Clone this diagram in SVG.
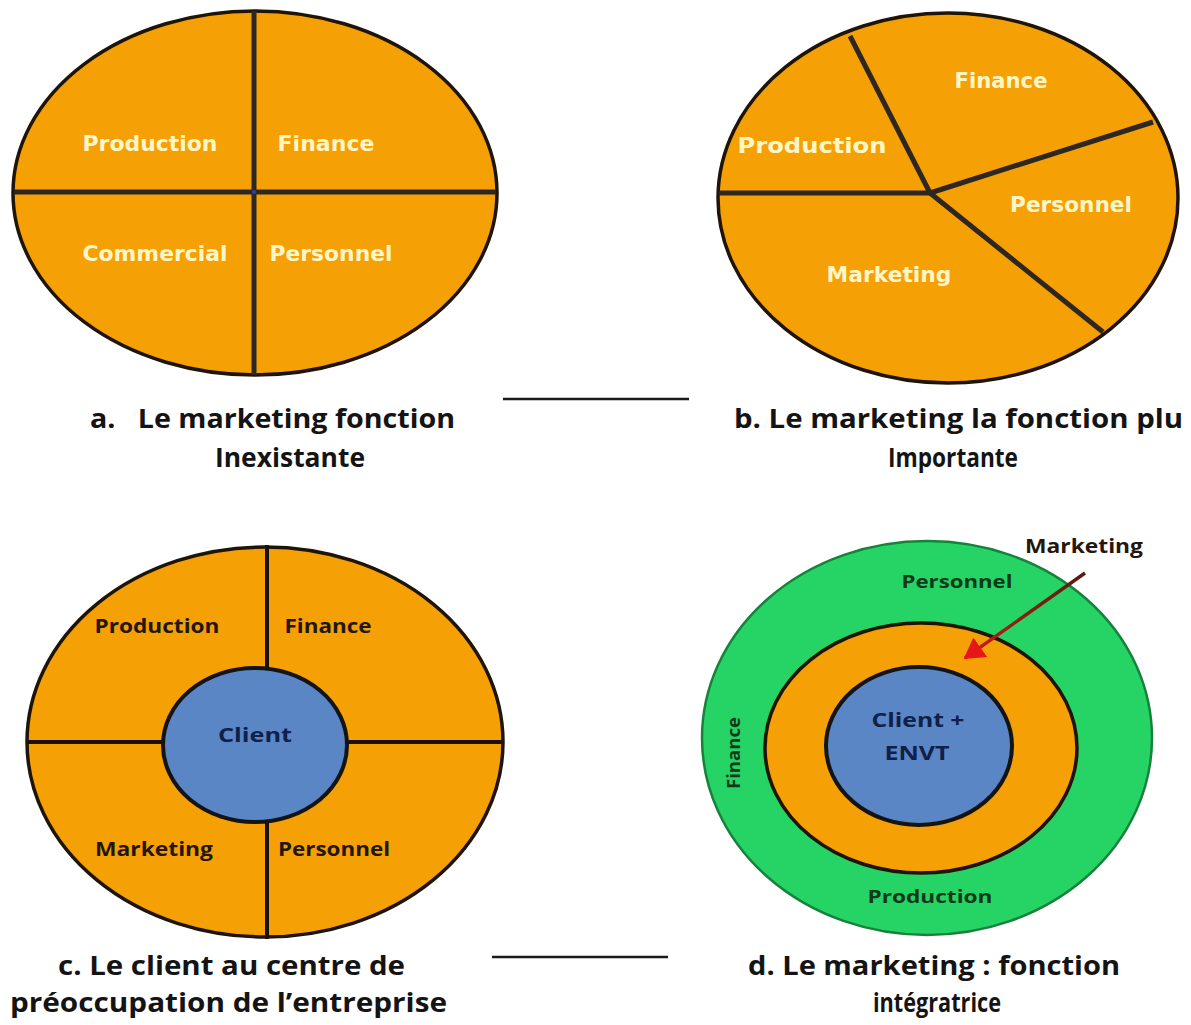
<svg xmlns="http://www.w3.org/2000/svg" width="1191" height="1025" viewBox="0 0 1191 1025">
  <style>
    .bg { fill: #ffffff; }
    .orange { fill: #f5a004; stroke: #1e140a; stroke-width: 3.5; }
    .blue { fill: #5a86c6; stroke: #141414; stroke-width: 4; }
    .green { fill: #26d466; stroke: #17823c; stroke-width: 2.5; }
    .div { stroke: #2e2620; stroke-width: 5; stroke-linecap: butt; fill: none; }
    .divc { stroke: #1a1208; stroke-width: 4; fill: none; }
    .lw { font-family: "DejaVu Sans", Verdana, sans-serif; font-weight: bold; font-size: 21px; fill: #fff6c8; text-anchor: middle; }
    .ld { font-family: "Open Sans", "Liberation Sans", sans-serif; font-weight: bold; font-size: 20px; fill: #24160a; text-anchor: middle; }
    .lc { font-family: "Open Sans", "Liberation Sans", sans-serif; font-weight: bold; font-size: 20px; fill: #102048; text-anchor: middle; }
    .lg { font-family: "Open Sans", "Liberation Sans", sans-serif; font-weight: bold; font-size: 18px; fill: #0f3a1a; text-anchor: middle; }
    .cap { font-family: "Open Sans", "Liberation Sans", sans-serif; font-weight: bold; font-size: 27px; fill: #141414; white-space: pre; }
    .rule { stroke: #1a1a1a; stroke-width: 2.5; }
  </style>
  <defs>
    <linearGradient id="arrowShade" gradientUnits="userSpaceOnUse" x1="1085" y1="573" x2="962" y2="660">
      <stop offset="0" stop-color="#5a1a10"/>
      <stop offset="0.55" stop-color="#8a2010"/>
      <stop offset="1" stop-color="#e8161a"/>
    </linearGradient>
    <marker id="redHead" markerWidth="7" markerHeight="7" refX="5.5" refY="3.5" orient="auto" markerUnits="strokeWidth">
      <path d="M0,0 L6,3.5 L0,7 Z" fill="#e8161a"/>
    </marker>
  </defs>

  <rect class="bg" x="0" y="0" width="1191" height="1025"/>

  <!-- a. four equal functions -->
  <g id="panel-a">
    <ellipse class="orange" cx="255" cy="193" rx="242" ry="182"/>
    <line class="div" x1="254" y1="11" x2="254" y2="375"/>
    <line class="div" x1="14" y1="192" x2="496" y2="192"/>
    <circle cx="254" cy="192" r="2.2" fill="#2b3c9a"/>
    <text class="lw" x="150" y="151" textLength="135" lengthAdjust="spacingAndGlyphs">Production</text>
    <text class="lw" x="326" y="151" textLength="97" lengthAdjust="spacingAndGlyphs">Finance</text>
    <text class="lw" x="155" y="261" textLength="145" lengthAdjust="spacingAndGlyphs">Commercial</text>
    <text class="lw" x="331" y="261" textLength="123" lengthAdjust="spacingAndGlyphs">Personnel</text>
  </g>

  <!-- b. marketing as the largest slice -->
  <g id="panel-b">
    <ellipse class="orange" cx="948" cy="198" rx="230" ry="185"/>
    <line class="div" x1="930" y1="193" x2="719" y2="193"/>
    <line class="div" x1="930" y1="193" x2="850" y2="36"/>
    <line class="div" x1="930" y1="193" x2="1153" y2="122"/>
    <line class="div" x1="930" y1="193" x2="1103" y2="332"/>
    <text class="lw" x="1001" y="88" textLength="93" lengthAdjust="spacingAndGlyphs">Finance</text>
    <text class="lw" x="812" y="153" textLength="149" lengthAdjust="spacingAndGlyphs">Production</text>
    <text class="lw" x="1071" y="212" textLength="122" lengthAdjust="spacingAndGlyphs">Personnel</text>
    <text class="lw" x="889" y="282" textLength="125" lengthAdjust="spacingAndGlyphs">Marketing</text>
  </g>

  <!-- c. client at the centre -->
  <g id="panel-c">
    <ellipse class="orange" cx="265" cy="742" rx="238" ry="195"/>
    <line class="divc" x1="267" y1="545" x2="267" y2="669"/>
    <line class="divc" x1="267" y1="822" x2="267" y2="939"/>
    <line class="divc" x1="28" y1="742" x2="164" y2="742"/>
    <line class="divc" x1="346" y1="742" x2="502" y2="742"/>
    <ellipse class="blue" cx="255" cy="745" rx="92" ry="77"/>
    <text class="ld" x="157" y="633" textLength="125" lengthAdjust="spacingAndGlyphs">Production</text>
    <text class="ld" x="328" y="633" textLength="87" lengthAdjust="spacingAndGlyphs">Finance</text>
    <text class="lc" x="255" y="742" textLength="74" lengthAdjust="spacingAndGlyphs">Client</text>
    <text class="ld" x="154" y="856" textLength="118" lengthAdjust="spacingAndGlyphs">Marketing</text>
    <text class="ld" x="334" y="856" textLength="112" lengthAdjust="spacingAndGlyphs">Personnel</text>
  </g>

  <!-- d. marketing as the integrating ring -->
  <g id="panel-d">
    <ellipse class="green" cx="927" cy="738" rx="225" ry="197"/>
    <ellipse class="orange" cx="921" cy="748" rx="156" ry="125"/>
    <ellipse class="blue" cx="919" cy="746" rx="93" ry="79"/>
    <text class="lg" x="957" y="588" textLength="111" lengthAdjust="spacingAndGlyphs">Personnel</text>
    <text class="lg" x="930" y="903" textLength="125" lengthAdjust="spacingAndGlyphs">Production</text>
    <text class="lg" transform="translate(740 753) rotate(-90)" x="0" y="0" textLength="72" lengthAdjust="spacingAndGlyphs">Finance</text>
    <text class="lc" x="918" y="727" textLength="93" lengthAdjust="spacingAndGlyphs">Client +</text>
    <text class="lc" x="917" y="760" textLength="65" lengthAdjust="spacingAndGlyphs">ENVT</text>
    <text class="ld" x="1084" y="553" font-size="17" fill="#141414" textLength="118" lengthAdjust="spacingAndGlyphs">Marketing</text>
  </g>

  <g id="connectors">
    <line x1="1085" y1="573" x2="965" y2="658" stroke="url(#arrowShade)" stroke-width="3.4" marker-end="url(#redHead)"/>
  </g>

  <!-- captions -->
  <g id="captions">
    <text class="cap" x="90" y="428" textLength="365" lengthAdjust="spacingAndGlyphs">a.   Le marketing fonction</text>
    <text class="cap" x="290" y="467" text-anchor="middle" textLength="150" lengthAdjust="spacingAndGlyphs">Inexistante</text>
    <line class="rule" x1="503" y1="399" x2="689" y2="399"/>
    <text class="cap" x="734" y="428" textLength="449" lengthAdjust="spacingAndGlyphs">b. Le marketing la fonction plu</text>
    <text class="cap" x="953" y="467" text-anchor="middle" textLength="130" lengthAdjust="spacingAndGlyphs">Importante</text>

    <text class="cap" x="58" y="975" textLength="347" lengthAdjust="spacingAndGlyphs">c. Le client au centre de</text>
    <text class="cap" x="10" y="1012" textLength="437" lengthAdjust="spacingAndGlyphs">préoccupation de l’entreprise</text>
    <line class="rule" x1="492" y1="957" x2="668" y2="957"/>
    <text class="cap" x="748" y="975" textLength="372" lengthAdjust="spacingAndGlyphs">d. Le marketing : fonction</text>
    <text class="cap" x="937" y="1012" text-anchor="middle" textLength="128" lengthAdjust="spacingAndGlyphs">intégratrice</text>
  </g>
</svg>
